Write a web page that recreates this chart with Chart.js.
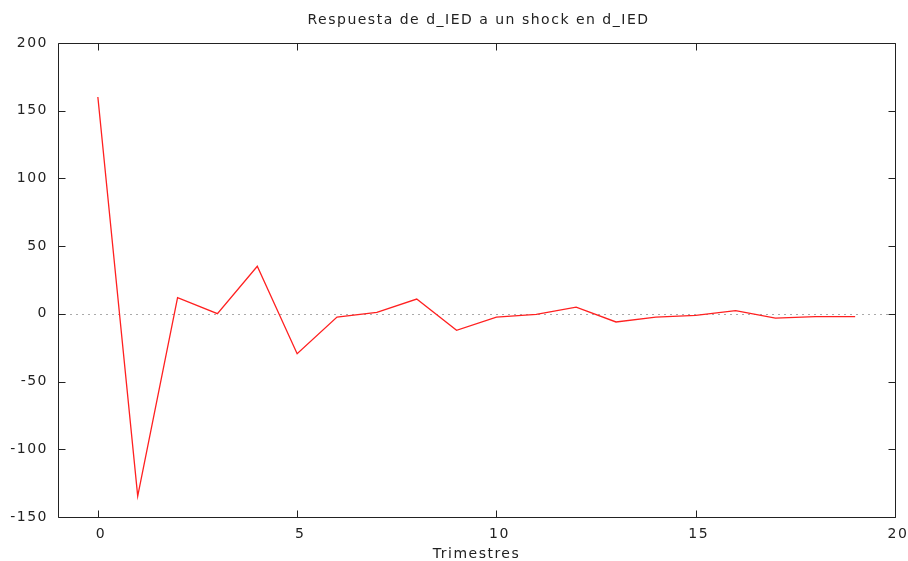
<!DOCTYPE html>
<html>
<head>
<meta charset="utf-8">
<script src="https://cdn.jsdelivr.net/npm/chart.js@4.4.1/dist/chart.umd.min.js"></script>
<style>
  html, body { margin: 0; padding: 0; background: #fff; }
  #wrap { width: 908px; height: 561px; }
</style>
</head>
<body>
<div id="wrap"><canvas id="irf" width="908" height="561"></canvas></div>
<script>
//------------------------------- DATA ----------------------------------------
const periods = [0, 1, 2, 3, 4, 5, 6, 7, 8, 9, 10, 11, 12, 13, 14, 15, 16, 17, 18, 19];
const response = [160.1, -134.6, 12.0, 0.1, 35.1, -29.4, -2.4, 1.1, 10.9, -12.2,
                  -2.4, -0.4, 5.0, -6.0, -2.4, -1.1, 2.4, -3.1, -2.1, -2.1];
const xTickVals = [0, 5, 10, 15, 20];
const yTickVals = [-150, -100, -50, 0, 50, 100, 150, 200];
const titleText = 'Respuesta de d_IED a un shock en d_IED';

const FONT = 'DejaVu Sans';
const TEXT = '#222222';

//------------------------------- PLUGINS -------------------------------------
// spaced-out lettering like the gnuplot png terminal
const spacing = {
    id: 'spacing',
    beforeDraw(chart) { chart.ctx.letterSpacing = '1.5px'; }
};

// title centred over the plot box
const boxTitle = {
    id: 'boxTitle',
    afterDraw(chart) {
        const { ctx, chartArea: a } = chart;
        ctx.save();
        ctx.letterSpacing = '1.5px';
        ctx.font = '14px "' + FONT + '"';
        ctx.fillStyle = TEXT;
        ctx.textAlign = 'center';
        ctx.textBaseline = 'middle';
        ctx.fillText(titleText, (a.left + a.right) / 2 + 2, 20);
        ctx.restore();
    }
};

// dotted zero line
const zeroLine = {
    id: 'zeroLine',
    beforeDatasetsDraw(chart) {
        const { ctx, chartArea, scales } = chart;
        const y = Math.round(scales.y.getPixelForValue(0)) + 0.5;
        ctx.save();
        ctx.strokeStyle = '#aaaaaa';
        ctx.lineWidth = 1;
        ctx.setLineDash([2, 4]);
        ctx.beginPath();
        ctx.moveTo(chartArea.left, y);
        ctx.lineTo(chartArea.right, y);
        ctx.stroke();
        ctx.restore();
    }
};

// box frame with inward ticks on all four sides
const frame = {
    id: 'frame',
    afterDraw(chart) {
        const { ctx, chartArea: a, scales } = chart;
        const L = Math.round(a.left) + 0.5, R = Math.round(a.right) + 0.5;
        const T = Math.round(a.top) + 0.5, B = Math.round(a.bottom) + 0.5;
        const len = 7;
        ctx.save();
        ctx.setLineDash([]);
        ctx.strokeStyle = '#222222';
        ctx.lineWidth = 1;
        ctx.beginPath();
        ctx.rect(L, T, R - L, B - T);
        scales.x.ticks.forEach(t => {
            const x = Math.round(scales.x.getPixelForValue(t.value)) + 0.5;
            ctx.moveTo(x, B); ctx.lineTo(x, B - len);
            ctx.moveTo(x, T); ctx.lineTo(x, T + len);
        });
        scales.y.ticks.forEach(t => {
            const y = Math.round(scales.y.getPixelForValue(t.value)) + 0.5;
            ctx.moveTo(L, y); ctx.lineTo(L + len, y);
            ctx.moveTo(R, y); ctx.lineTo(R - len, y);
        });
        ctx.stroke();
        ctx.restore();
    }
};

//------------------------------- CHART ---------------------------------------
const ctx = document.getElementById('irf').getContext('2d');
const chart = new Chart(ctx, {
    type: 'line',
    data: {
        datasets: [{
            data: periods.map((p, i) => ({ x: p, y: response[i] })),
            borderColor: '#ff2020',
            borderWidth: 1.3,
            pointRadius: 0,
            tension: 0,
            fill: false
        }]
    },
    options: {
        responsive: false,
        animation: false,
        layout: { padding: { left: 0, right: 13, top: 43, bottom: 0 } },
        plugins: {
            legend: { display: false },
            tooltip: { enabled: false },
            title: { display: false }
        },
        scales: {
            x: {
                type: 'linear',
                min: -1,
                max: 20,
                grid: { display: false, drawTicks: false },
                border: { display: false },
                afterBuildTicks: s => { s.ticks = xTickVals.map(v => ({ value: v })); },
                afterFit: s => { s.height = 44; s.paddingLeft = 0; s.paddingRight = 0; },
                ticks: {
                    color: TEXT,
                    padding: 9,
                    labelOffset: 3,
                    maxRotation: 0,
                    font: { family: FONT, size: 14 }
                },
                title: {
                    display: true,
                    text: 'Trimestres',
                    color: TEXT,
                    padding: 0,
                    font: { family: FONT, size: 14, lineHeight: 1.0 }
                }
            },
            y: {
                min: -150,
                max: 200,
                grid: { display: false, drawTicks: false },
                border: { display: false },
                afterBuildTicks: s => { s.ticks = yTickVals.map(v => ({ value: v })); },
                afterFit: s => { s.width = 58; s.paddingTop = 0; s.paddingBottom = 0; },
                ticks: {
                    color: TEXT,
                    padding: 10,
                    font: { family: FONT, size: 14 }
                }
            }
        }
    },
    plugins: [spacing, zeroLine, frame, boxTitle]
});
</script>
</body>
</html>
